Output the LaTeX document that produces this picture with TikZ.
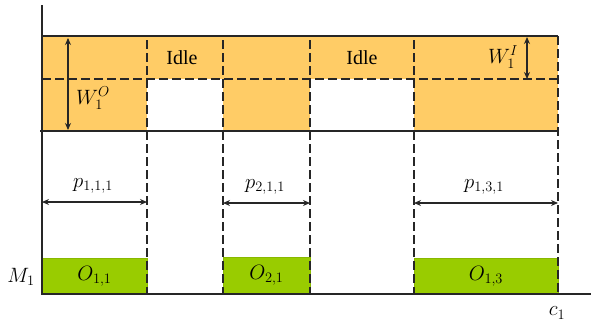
\documentclass[tikz,border=0pt]{standalone}
\usepackage{fontspec}
\setmainfont{Liberation Serif}
\usetikzlibrary{arrows.meta}
\DeclareMathSizes{20}{20}{15.5}{12}
\definecolor{bandfill}{HTML}{FFCC66}
\definecolor{opfill}{HTML}{99CC00}
\definecolor{opedge}{HTML}{88B800}
\definecolor{ink}{HTML}{262626}
\tikzset{
  solidline/.style={draw=ink, line width=1.2pt},
  dashline/.style={draw=ink, line width=1.1pt, dash pattern=on 9pt off 4pt},
  dimarrow/.style={draw=ink, line width=1.1pt, {Stealth[length=7pt,width=6pt]}-{Stealth[length=7pt,width=6pt]}},
  opbox/.style={fill=opfill, draw=opedge, line width=0.6pt, inner sep=0pt, minimum height=36pt},
  lbl/.style={inner sep=1pt, text=black, font=\fontsize{20}{24}\selectfont}
}
\begin{document}
\begin{tikzpicture}[x=1pt, y=-1pt]
\useasboundingbox (0,0) rectangle (591,327);

% storage band with idle gaps
\fill[bandfill] (42,36) rectangle (558,131);
\fill[white] (147,79) rectangle (223,132);
\fill[white] (310,79) rectangle (414,132);

% operation blocks on machine M1
\node[opbox, minimum width=105pt] (o11) at (94.5,276) {};
\node[opbox, minimum width=87pt] (o21) at (266.5,275.5) {};
\node[opbox, minimum width=144pt] (o13) at (486,276) {};
\node[lbl] at (o11) {$O_{1,1}$};
\node[lbl] at (o21) {$O_{2,1}$};
\node[lbl] at (o13) {$O_{1,3}$};

% reference points
\coordinate (ytop) at (42,5);
\coordinate (ybot) at (42,295);
\coordinate (tend) at (591,294);
\coordinate (bandTL) at (42,36);
\coordinate (bandTR) at (558,36);
\coordinate (bandBL) at (40,131);
\coordinate (bandBR) at (558,131);
\coordinate (midL) at (42,79);
\coordinate (midR) at (558,79);
\foreach \n/\x in {a/147, b/223, c/310, d/414} {
  \coordinate (v\n top) at (\x,40);
  \coordinate (v\n bot) at (\x,294);
}
\coordinate (vetop) at (558,36);
\coordinate (vebot) at (558,294);

% dashed boundaries
\draw[dashline] (midL) -- (midR);
\foreach \n in {a,b,c,d,e} {
  \draw[dashline] (v\n top) -- (v\n bot);
}

% solid axes and band edges
\draw[solidline] (ytop) -- (ybot);
\draw[solidline] (42,294) -- (tend);
\draw[solidline] (bandTL) -- (bandTR);
\draw[solidline] (bandBL) -- (bandBR);

% window widths
\coordinate (woTop) at (68,38);
\coordinate (woBot) at (68,130);
\draw[dimarrow] (woTop) -- (woBot);
\node[lbl] (wo) at (93,98) {$W_1^O$};
\coordinate (wiTop) at (527,37);
\coordinate (wiBot) at (527,79);
\draw[dimarrow] (wiTop) -- (wiBot);
\node[lbl] (wi) at (503,57) {$W_1^I$};

% idle labels
\node[lbl] (idle1) at (182,58) {Idle};
\node[lbl] (idle2) at (362,58) {Idle};

% processing times
\coordinate (p1L) at (42,202);
\coordinate (p1R) at (147,202);
\draw[dimarrow] (p1L) -- (p1R);
\node[lbl] (p111) at (93,186) {$p_{1,1,1}$};
\coordinate (p2L) at (223,203);
\coordinate (p2R) at (310,203);
\draw[dimarrow] (p2L) -- (p2R);
\node[lbl] (p211) at (265,187) {$p_{2,1,1}$};
\coordinate (p3L) at (414,203);
\coordinate (p3R) at (558,203);
\draw[dimarrow] (p3L) -- (p3R);
\node[lbl] (p131) at (484,187) {$p_{1,3,1}$};

% axis labels
\node[lbl] (m1) at (21,277) {$M_1$};
\node[lbl] (c1) at (557,313) {$c_1$};
\end{tikzpicture}
\end{document}
